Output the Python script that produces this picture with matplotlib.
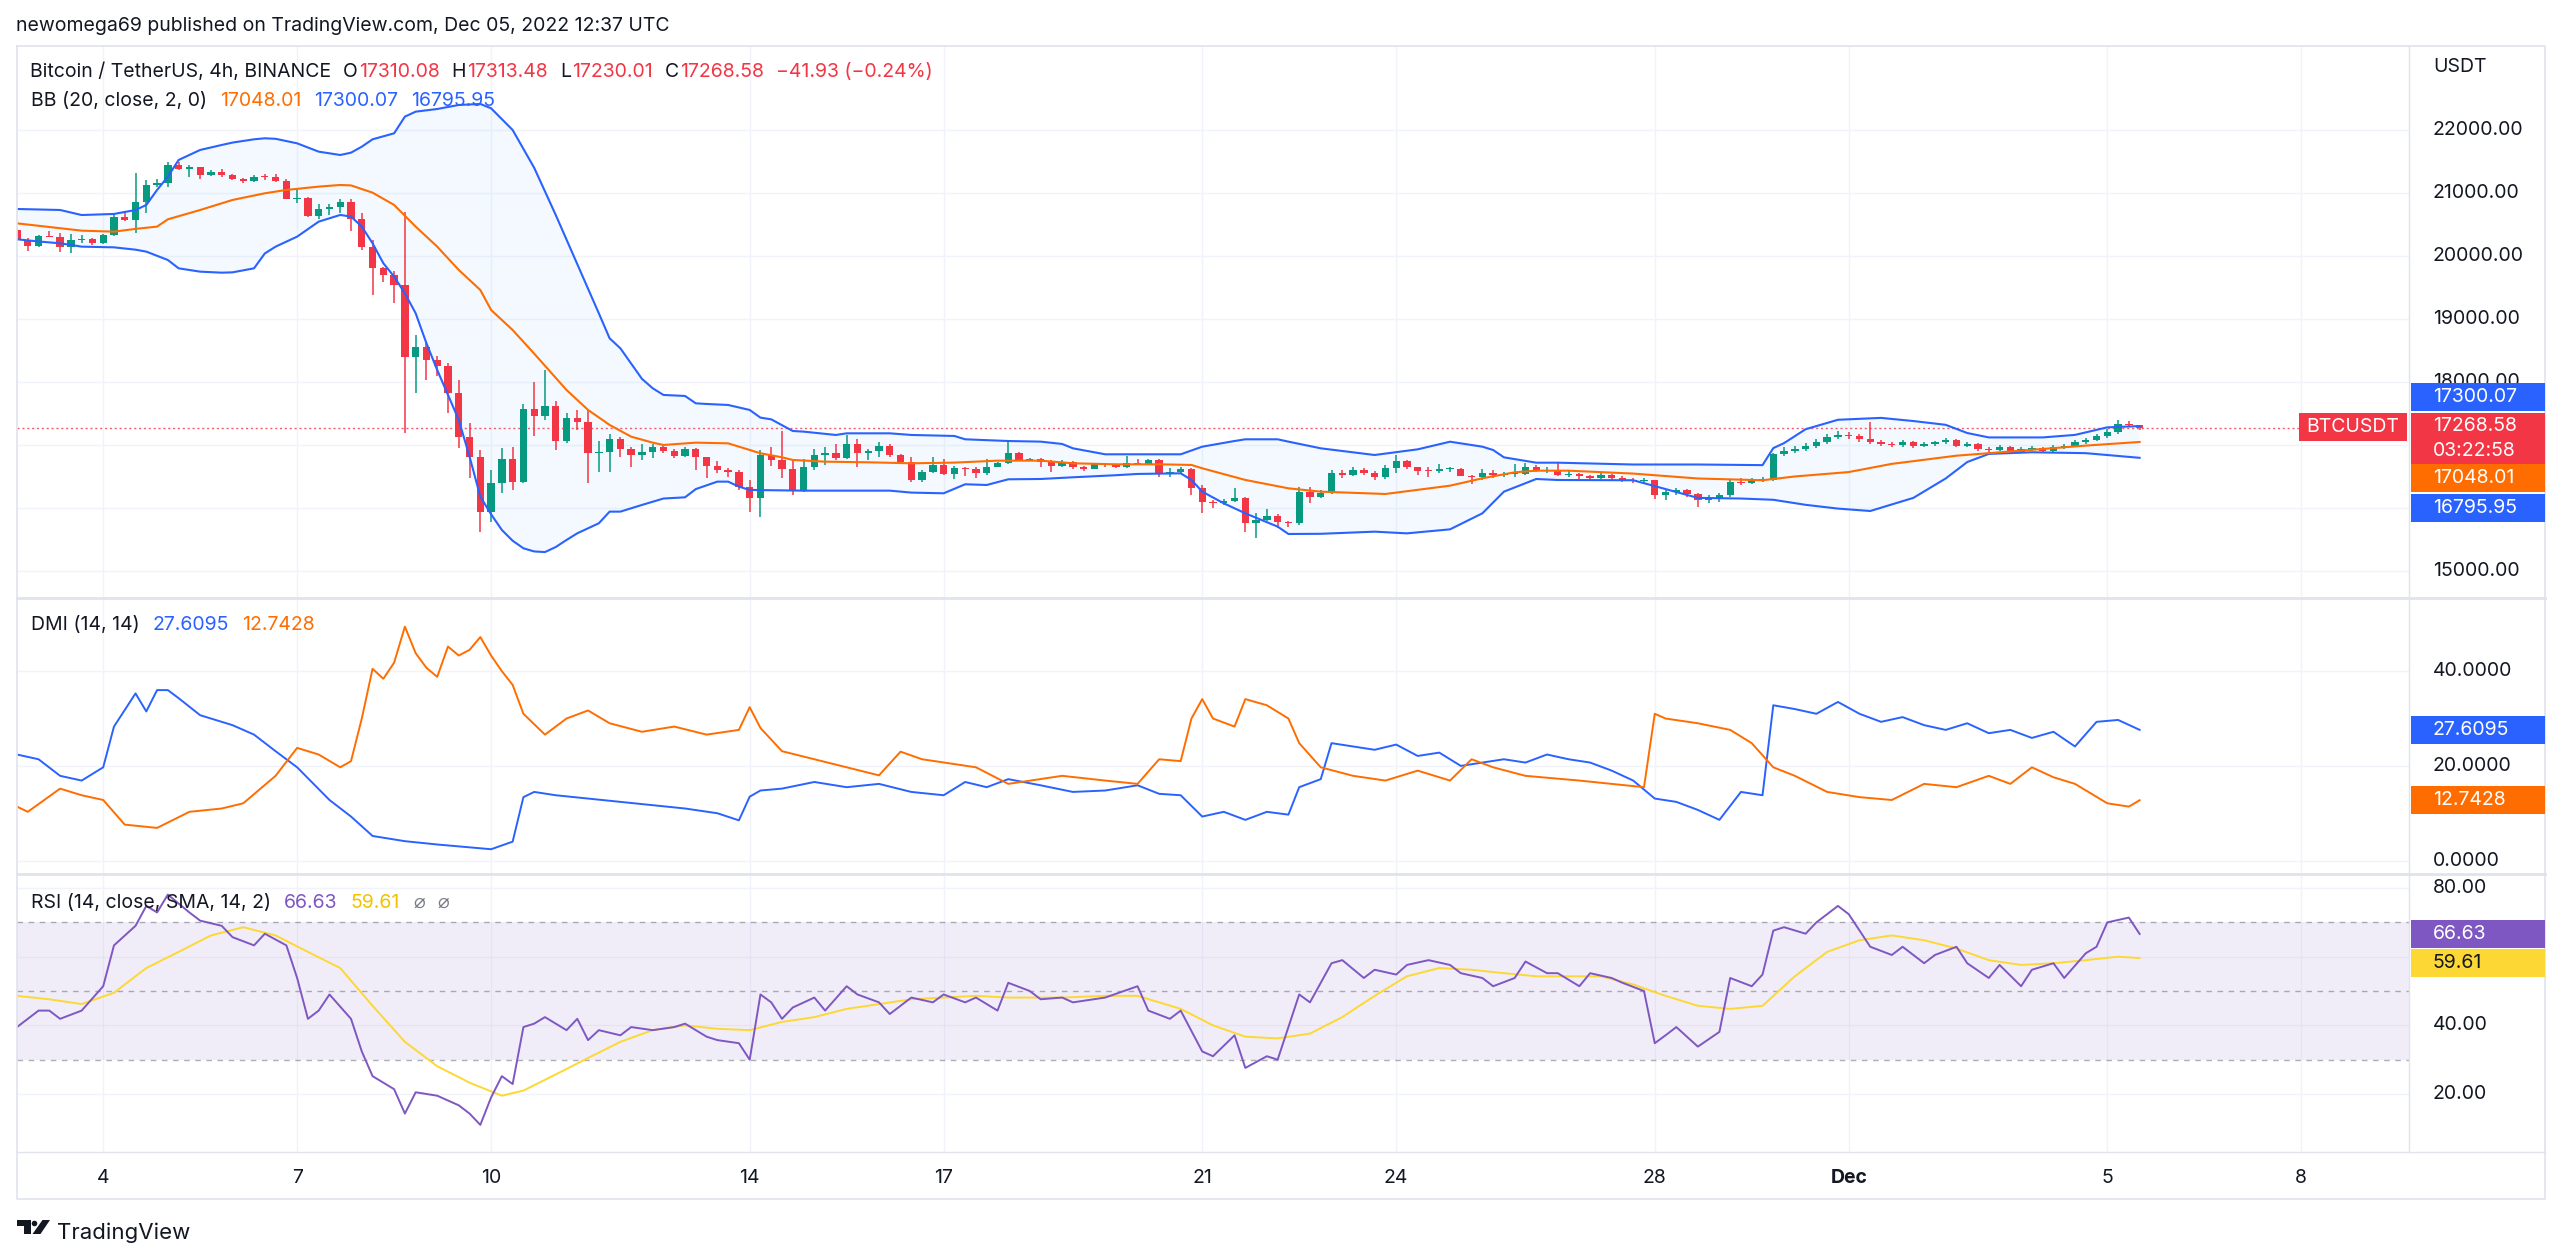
import numpy as np
import matplotlib
matplotlib.use('Agg')
import matplotlib.pyplot as plt
from matplotlib.patches import Rectangle, Circle, Polygon

plt.rcParams['font.family'] = ['Inter', 'DejaVu Sans']

W, H = 2560, 1259
FS = 14
GREEN, RED = '#089981', '#F23645'
BLUE, ORANGE = '#2962FF', '#FF6D00'
PURPLE, YELLOW = '#7E57C2', '#FDD835'
TEXT, GRAY = '#131722', '#787B86'
GRID, BORDER = '#F0F3FA', '#E0E3EB'

# ---- BTCUSDT 4h candles, Nov 2 16:00 -> Dec 5 12:00 ----
first_open = 20413
last_open = 17310.08
closes = [
    20254, 20164, 20317, 20305, 20137, 20254, 20265, 20201, 20328, 20614,
    20571, 20852, 21122, 21153, 21450, 21386, 21407, 21286, 21333, 21286,
    21228, 21190, 21259, 21250, 21196, 20910, 20920, 20635, 20751, 20783,
    20857, 20593, 20148, 19804, 19698, 19540, 18400, 18560, 18350, 18250,
    17831, 17132, 16804, 15942, 16392, 16773, 16418, 17571, 17466, 17619,
    17069, 17423, 17360, 16878, 16883, 17095, 16931, 16836, 16883, 16963,
    16910, 16825, 16931, 16804, 16672, 16603, 16571, 16339, 16164, 16841,
    16762, 16614, 16275, 16645, 16841, 16878, 16788, 17016, 16878, 16910,
    16989, 16841, 16736, 16445, 16577, 16683, 16534, 16640, 16619, 16550,
    16651, 16720, 16878, 16762, 16772, 16730, 16672, 16730, 16645, 16619,
    16693, 16677, 16645, 16720, 16698, 16762, 16534, 16577, 16613, 16312,
    16090, 16074, 16116, 16164, 15756, 15810, 15873, 15778, 15767, 16259,
    16180, 16244, 16560, 16520, 16600, 16560, 16486, 16629, 16751, 16645,
    16592, 16587, 16619, 16622, 16513, 16486, 16550, 16523, 16539, 16545,
    16645, 16592, 16600, 16523, 16540, 16500, 16480, 16520, 16470, 16450,
    16430, 16440, 16200, 16250, 16280, 16220, 16120, 16150, 16200, 16420,
    16400, 16440, 16450, 16850, 16900, 16930, 16980, 17050, 17120, 17160,
    17140, 17090, 17040, 17020, 17000, 17040, 16980, 17010, 17040, 17080,
    16990, 17010, 16940, 16920, 16960, 16890, 16930, 16950, 16900, 16960,
    16990, 17040, 17080, 17140, 17200, 17330, 17310.51, 17268.58]
highs = [
    20440, 20280, 20340, 20402, 20360, 20350, 20330, 20290, 20345, 20688,
    20693, 21323, 21207, 21217, 21487, 21487, 21440, 21420, 21360, 21375,
    21300, 21240, 21290, 21300, 21300, 21220, 21074, 20930, 20825, 20825,
    20910, 20910, 20688, 20254, 19830, 19762, 20704, 18740, 18620, 18420,
    18300, 18032, 17354, 16920, 16603, 16947, 16973, 17650, 18005, 18190,
    17704, 17502, 17555, 17555, 17063, 17169, 17132, 16973, 17016, 17016,
    16990, 16930, 16973, 16945, 16815, 16751, 16640, 16603, 16445, 16920,
    16963, 17222, 16773, 16773, 16931, 16963, 17016, 17159, 17095, 16931,
    17053, 17016, 16860, 16804, 16600, 16804, 16773, 16660, 16656, 16645,
    16773, 16735, 17053, 16890, 16790, 16788, 16762, 16762, 16740, 16667,
    16720, 16720, 16698, 16831, 16778, 16778, 16780, 16630, 16645, 16630,
    16365, 16127, 16150, 16312, 16180, 15915, 15990, 15905, 15800, 16339,
    16328, 16286, 16600, 16610, 16650, 16630, 16580, 16682, 16841, 16760,
    16650, 16645, 16698, 16656, 16640, 16520, 16619, 16603, 16577, 16698,
    16720, 16682, 16656, 16708, 16600, 16560, 16530, 16560, 16540, 16500,
    16480, 16470, 16450, 16290, 16310, 16300, 16240, 16210, 16240, 16460,
    16470, 16480, 16490, 16880, 16960, 16990, 17030, 17090, 17170, 17220,
    17200, 17170, 17360, 17080, 17050, 17080, 17060, 17040, 17070, 17110,
    17100, 17050, 17030, 16970, 17000, 16980, 16960, 16990, 16970, 17000,
    17020, 17080, 17110, 17170, 17250, 17400, 17380, 17313.48]
lows = [
    20230, 20085, 20150, 20296, 20069, 20053, 20200, 20180, 20190, 20310,
    20550, 20370, 20690, 21100, 21100, 21370, 21250, 21217, 21270, 21250,
    21200, 21160, 21170, 21210, 21180, 20900, 20836, 20620, 20592, 20656,
    20677, 20402, 20095, 19376, 19593, 19259, 17196, 17831, 18032, 18100,
    17500, 16947, 16471, 15624, 15783, 16233, 16286, 16400, 17148, 17397,
    16920, 17026, 17238, 16391, 16576, 16576, 16804, 16656, 16762, 16788,
    16880, 16790, 16804, 16603, 16471, 16560, 16497, 16286, 15942, 15862,
    16667, 16471, 16206, 16250, 16600, 16683, 16760, 16770, 16645, 16762,
    16804, 16815, 16709, 16418, 16420, 16560, 16524, 16455, 16508, 16471,
    16530, 16645, 16700, 16751, 16740, 16645, 16577, 16645, 16614, 16587,
    16614, 16656, 16630, 16630, 16683, 16683, 16497, 16497, 16560, 16206,
    15915, 16000, 16050, 16100, 15624, 15519, 15790, 15677, 15704, 15730,
    16085, 16153, 16220, 16480, 16500, 16530, 16450, 16455, 16550, 16620,
    16524, 16497, 16550, 16566, 16500, 16380, 16444, 16470, 16497, 16497,
    16524, 16566, 16560, 16508, 16490, 16460, 16440, 16460, 16440, 16410,
    16400, 16400, 16150, 16120, 16200, 16180, 16020, 16080, 16100, 16180,
    16360, 16380, 16410, 16430, 16820, 16870, 16900, 16950, 17020, 17090,
    17100, 17040, 17010, 16980, 16960, 16970, 16950, 16960, 16990, 17010,
    16960, 16970, 16910, 16880, 16900, 16860, 16870, 16910, 16880, 16880,
    16940, 16970, 17020, 17060, 17110, 17180, 17280, 17230.01]

# ---- Bollinger Bands (20, close, 2), sampled at candle index ----
bb_up_i = [0, 4, 6, 9, 11, 12, 13, 14, 15, 17, 19, 20, 22, 23, 24, 26, 28, 30, 31, 32,
           33, 35, 36, 37, 39, 41, 43, 44, 46, 48, 50, 54, 55, 56, 58, 59, 60, 62, 63, 64,
           66, 68, 69, 70, 72, 73, 76, 77, 81, 83, 87, 88, 92, 95, 97, 98, 101, 108, 110, 113,
           114, 117, 118, 121, 126, 130, 133, 136, 137, 138, 141, 143, 150, 156, 162, 163, 164, 166, 169, 173,
           176, 179, 181, 183, 188, 191, 194, 197]
bb_up = [20746, 20730, 20650, 20667, 20730, 20810, 21048, 21259, 21524, 21683, 21762, 21800, 21852, 21868, 21860, 21788, 21656, 21603, 21640, 21735,
         21852, 21947, 22212, 22291, 22333, 22397, 22413, 22344, 22000, 21400, 20651, 19090, 18693, 18534, 18050, 17900, 17794, 17778, 17661, 17651,
         17635, 17556, 17434, 17407, 17222, 17212, 17159, 17185, 17185, 17159, 17143, 17090, 17063, 17053, 17016, 16947, 16852, 16852, 16973, 17063,
         17090, 17090, 17053, 16947, 16841, 16931, 17052, 16973, 16920, 16804, 16719, 16719, 16690, 16690, 16680, 16950, 17030, 17250, 17400, 17430,
         17380, 17320, 17190, 17120, 17120, 17160, 17280, 17300.07]
bb_mid_i = [0, 3, 6, 9, 11, 13, 14, 17, 20, 23, 25, 28, 30, 31, 33, 35, 37, 39, 41, 43,
            44, 46, 48, 51, 53, 55, 57, 59, 60, 63, 66, 68, 69, 71, 72, 75, 79, 83, 87, 91,
            95, 98, 102, 106, 109, 110, 114, 118, 121, 127, 133, 136, 139, 141, 144, 150, 156, 162, 165, 170,
            174, 180, 186, 192, 197]
bb_mid = [20518, 20460, 20402, 20386, 20430, 20466, 20582, 20730, 20889, 20995, 21048, 21101, 21127, 21120, 21005, 20810, 20466, 20148, 19778, 19460,
          19143, 18825, 18450, 17873, 17556, 17318, 17132, 17037, 17000, 17037, 17026, 16921, 16868, 16804, 16762, 16735, 16725, 16709, 16720, 16751,
          16751, 16709, 16693, 16693, 16683, 16630, 16445, 16312, 16259, 16222, 16354, 16471, 16566, 16592, 16592, 16546, 16468, 16440, 16500, 16570,
          16700, 16830, 16910, 16990, 17048.01]
bb_low_i = [0, 2, 4, 6, 9, 11, 12, 14, 15, 17, 19, 20, 22, 23, 24, 26, 28, 30, 31, 32,
            33, 34, 35, 36, 37, 38, 39, 41, 42, 43, 44, 45, 46, 47, 48, 49, 50, 51, 52, 54,
            55, 56, 58, 60, 62, 63, 65, 66, 67, 68, 73, 77, 81, 83, 86, 88, 90, 92, 95, 98,
            102, 104, 108, 109, 110, 112, 114, 117, 118, 121, 126, 129, 133, 136, 138, 141, 143, 150, 153, 156,
            160, 163, 166, 169, 172, 176, 179, 181, 183, 187, 192, 197]
bb_low = [20265, 20230, 20201, 20148, 20137, 20100, 20069, 19936, 19804, 19751, 19735, 19740, 19804, 20040, 20148, 20307, 20545, 20651, 20625, 20466,
          20201, 19884, 19672, 19407, 19090, 18614, 18190, 17397, 16815, 16180, 15900, 15650, 15480, 15360, 15310, 15300, 15380, 15492, 15598, 15757,
          15942, 15942, 16048, 16150, 16169, 16300, 16418, 16418, 16339, 16286, 16275, 16275, 16275, 16244, 16233, 16376, 16365, 16455, 16460, 16487,
          16520, 16540, 16550, 16445, 16259, 16074, 15915, 15704, 15587, 15590, 15624, 15597, 15661, 15915, 16259, 16460, 16444, 16440, 16300, 16160,
          16150, 16130, 16050, 15990, 15952, 16160, 16468, 16729, 16858, 16884, 16870, 16795.95]

# ---- DMI (14, 14) ----
dmi_plus_i = [0, 2, 4, 6, 8, 9, 11, 12, 13, 14, 15, 17, 20, 22, 24, 26, 29, 31, 33, 36,
              39, 44, 46, 47, 48, 50, 53, 56, 59, 62, 65, 67, 68, 69, 71, 74, 77, 80, 83, 86,
              88, 90, 92, 95, 98, 101, 104, 106, 108, 110, 112, 114, 116, 118, 119, 121, 122, 124, 126, 128,
              130, 132, 134, 136, 138, 140, 142, 144, 146, 148, 150, 152, 154, 156, 158, 160, 162, 163, 165, 167,
              169, 171, 173, 175, 177, 179, 181, 183, 185, 187, 189, 191, 193, 195, 197]
dmi_plus = [22.4, 21.4, 17.9, 16.9, 19.7, 28.3, 35.3, 31.5, 36.0, 36.0, 34.3, 30.7, 28.6, 26.6, 23.1, 19.7, 12.8, 9.3, 5.2, 4.1,
            3.4, 2.4, 4.0, 13.4, 14.5, 13.8, 13.1, 12.4, 11.7, 11.0, 10.0, 8.5, 13.5, 14.8, 15.2, 16.6, 15.5, 16.2, 14.5, 13.8,
            16.6, 15.5, 17.2, 15.9, 14.5, 14.8, 15.9, 14.1, 13.8, 9.3, 10.3, 8.6, 10.3, 9.7, 15.5, 17.2, 24.8, 24.1, 23.4, 24.5,
            22.1, 22.8, 20.0, 20.7, 21.4, 20.7, 22.4, 21.4, 20.7, 19.0, 16.9, 13.1, 12.4, 10.7, 8.6, 14.5, 13.8, 32.8, 32.0, 31.0,
            33.5, 31.0, 29.3, 30.3, 28.6, 27.6, 29.0, 26.9, 27.6, 25.9, 27.2, 24.1, 29.3, 29.7, 27.6095]
dmi_minus_i = [0, 1, 4, 6, 8, 10, 13, 16, 19, 21, 24, 26, 28, 30, 31, 32, 33, 34, 35, 36,
               37, 38, 39, 40, 41, 42, 43, 44, 45, 46, 47, 49, 51, 53, 55, 58, 61, 64, 67, 68,
               69, 71, 74, 77, 80, 82, 84, 89, 92, 97, 101, 104, 106, 108, 109, 110, 111, 113, 114, 116,
               118, 119, 121, 124, 127, 130, 133, 135, 137, 140, 145, 151, 152, 153, 156, 159, 161, 163, 165, 168,
               171, 174, 177, 180, 183, 185, 187, 189, 191, 194, 196, 197]
dmi_minus = [11.4, 10.3, 15.2, 13.8, 12.8, 7.6, 6.9, 10.3, 11.0, 12.1, 17.9, 23.8, 22.4, 19.7, 21.0, 30.0, 40.5, 38.4, 41.8, 49.4,
             43.8, 40.7, 38.8, 45.2, 43.3, 44.5, 47.2, 43.3, 40.0, 37.1, 31.0, 26.6, 30.0, 31.7, 29.0, 27.2, 28.3, 26.6, 27.6, 32.4,
             28.0, 23.1, 21.4, 19.7, 18.0, 23.0, 21.4, 19.7, 16.2, 17.9, 16.9, 16.2, 21.4, 21.0, 30.0, 34.1, 30.0, 28.3, 34.1, 32.8,
             30.0, 24.8, 19.7, 17.9, 16.9, 19.0, 16.9, 21.4, 19.7, 17.9, 16.9, 15.5, 31.0, 30.0, 29.0, 27.6, 24.8, 19.7, 17.9, 14.5,
             13.4, 12.8, 16.2, 15.5, 17.9, 16.2, 19.7, 17.6, 16.2, 12.1, 11.4, 12.7428]

# ---- RSI (14, close) and its SMA 14 ----
rsi_i = [0, 2, 3, 4, 6, 8, 9, 11, 12, 13, 14, 16, 17, 19, 20, 22, 23, 25, 26, 27,
         28, 29, 31, 32, 33, 35, 36, 37, 39, 41, 42, 43, 44, 45, 46, 47, 48, 49, 51, 52,
         53, 54, 56, 57, 59, 61, 62, 64, 65, 67, 68, 69, 70, 71, 72, 74, 75, 77, 78, 80,
         81, 83, 85, 86, 88, 89, 91, 92, 94, 95, 97, 98, 101, 104, 105, 107, 108, 110, 111, 113,
         114, 116, 117, 119, 120, 122, 123, 125, 126, 128, 129, 131, 133, 134, 136, 137, 139, 140, 142, 143,
         145, 146, 148, 149, 151, 152, 153, 154, 156, 158, 159, 161, 162, 163, 164, 166, 167, 169, 170, 172,
         174, 175, 177, 178, 180, 181, 183, 184, 186, 187, 189, 190, 192, 193, 194, 196, 197]
rsi = [39.5, 44.3, 44.3, 41.9, 44.3, 51.4, 63.3, 69.0, 74.8, 72.9, 78.1, 72.9, 70.5, 69.0, 65.7, 63.3, 66.7, 63.3, 53.8, 41.9,
       44.3, 49.0, 41.9, 32.4, 25.2, 21.4, 14.3, 20.5, 19.5, 16.7, 14.3, 11.0, 19.0, 25.2, 22.9, 39.5, 40.5, 42.4, 38.6, 41.9,
       35.7, 38.6, 37.1, 39.5, 38.6, 39.5, 40.5, 36.7, 35.7, 34.8, 30.0, 49.0, 46.7, 41.9, 45.2, 48.1, 44.3, 51.4, 49.0, 46.7,
       43.3, 48.1, 46.7, 49.0, 46.7, 48.1, 44.3, 52.4, 50.0, 47.6, 48.1, 46.7, 48.1, 51.4, 44.3, 41.9, 44.3, 32.4, 31.0, 37.1,
       27.6, 31.0, 30.0, 49.0, 46.7, 58.1, 59.0, 53.8, 56.2, 54.8, 57.6, 59.0, 57.6, 55.2, 53.8, 51.4, 53.8, 58.6, 55.2, 55.2,
       51.4, 55.2, 53.8, 52.4, 50.0, 34.8, 37.1, 39.5, 33.8, 38.1, 53.8, 51.4, 54.8, 67.6, 68.6, 66.7, 70.0, 74.8, 72.4, 62.9,
       60.5, 62.9, 58.1, 60.5, 62.9, 58.1, 53.8, 57.6, 51.4, 56.2, 58.1, 53.8, 61.0, 62.9, 70.0, 71.4, 66.63]
rsi_ma_i = [0, 3, 6, 9, 12, 15, 18, 21, 24, 27, 30, 33, 36, 39, 42, 45, 47, 50, 53, 56,
            59, 62, 65, 68, 71, 74, 77, 80, 83, 86, 89, 92, 97, 101, 104, 108, 111, 114, 117, 120,
            123, 126, 129, 132, 135, 138, 141, 144, 147, 150, 153, 156, 159, 162, 165, 168, 171, 174, 177, 180,
            183, 186, 189, 192, 195, 197]
rsi_ma = [48.6, 47.6, 46.2, 49.5, 56.7, 61.4, 66.2, 68.6, 66.2, 61.4, 56.7, 45.7, 35.2, 28.1, 23.3, 19.5, 21.0, 25.7, 30.5, 35.2,
          38.6, 40.0, 39.0, 38.6, 41.0, 42.4, 44.8, 46.2, 47.6, 48.1, 48.6, 48.1, 48.1, 48.6, 48.6, 44.8, 40.0, 36.7, 36.2, 37.6,
          42.4, 48.6, 54.3, 56.7, 56.2, 55.2, 54.3, 54.3, 54.3, 51.9, 48.6, 45.7, 44.8, 45.7, 54.3, 61.4, 64.8, 66.2, 64.8, 62.4,
          59.0, 57.6, 58.1, 59.0, 60.0, 59.61]

# axis ticks (candle index of midnight) and labels
tick_pos = [8, 26, 44, 68, 86, 110, 128, 152, 170, 194, 212]
tick_lab = ['4', '7', '10', '14', '17', '21', '24', '28', 'Dec', '5', '8']
price_grid = [15000, 16000, 17000, 18000, 19000, 20000, 21000, 22000]
price_labels = [22000, 21000, 20000, 19000, 18000, 15000]
dmi_grid = [0, 20, 40]
rsi_grid = [20, 40, 60, 80]
rsi_labels = [80, 40, 20]

opens = [first_open] + closes[:-1]
opens[-1] = last_open

fig = plt.figure(figsize=(W / 100, H / 100), dpi=100)
fig.patch.set_facecolor('white')

L, R = 17, 2409


def pane(top, bottom, ylim):
    ax = fig.add_axes([L / W, 1 - bottom / H, (R - L) / W, (bottom - top) / H])
    ax.set_xlim(0, 222)
    ax.set_ylim(*ylim)
    ax.axis('off')
    for t in tick_pos:
        ax.axvline(t, color=GRID, lw=1, zorder=0)
    return ax


ax1 = pane(46, 598, (14571, 23333))
ax2 = pane(598, 874, (-2.83, 55.45))
ax3 = pane(874, 1152, (3.1, 84.1))

# main pane: bands + candles
for p in price_grid:
    ax1.axhline(p, color=GRID, lw=1, zorder=0)
ax1.fill(np.r_[bb_up_i, bb_low_i[::-1]], np.r_[bb_up, bb_low[::-1]],
         color='#2196F3', alpha=0.05, lw=0, zorder=1)
idx = np.arange(len(closes))
o, c = np.array(opens), np.array(closes)
col = np.where(c >= o, GREEN, RED)
ax1.vlines(idx, lows, highs, colors=col, lw=1.1, zorder=3)
ax1.bar(idx, np.maximum(np.abs(c - o), 14), bottom=np.minimum(o, c), width=0.68,
        color=col, lw=0, zorder=4)
ax1.plot(bb_up_i, bb_up, color=BLUE, lw=1.5, zorder=5)
ax1.plot(bb_low_i, bb_low, color=BLUE, lw=1.5, zorder=5)
ax1.plot(bb_mid_i, bb_mid, color=ORANGE, lw=1.5, zorder=5)
ax1.axhline(closes[-1], color=RED, lw=1, ls=(0, (1.5, 2)), alpha=0.8, zorder=2)

# DMI pane
for v in dmi_grid:
    ax2.axhline(v, color=GRID, lw=1, zorder=0)
ax2.plot(dmi_plus_i, dmi_plus, color=BLUE, lw=1.4)
ax2.plot(dmi_minus_i, dmi_minus, color=ORANGE, lw=1.4)

# RSI pane
for v in rsi_grid:
    ax3.axhline(v, color=GRID, lw=1, zorder=0)
ax3.axhspan(30, 70, color=PURPLE, alpha=0.1, lw=0, zorder=1)
for v in [70, 50, 30]:
    ax3.axhline(v, color=GRAY, lw=1, ls=(0, (4, 4)), alpha=0.6, zorder=1)
ax3.plot(rsi_i, rsi, color=PURPLE, lw=1.4, zorder=3)
ax3.plot(rsi_ma_i, rsi_ma, color=YELLOW, lw=1.4, zorder=2)

# overlay in pixel coordinates for text, tags and frame
ov = fig.add_axes([0, 0, 1, 1], zorder=10)
ov.set_xlim(0, W)
ov.set_ylim(H, 0)
ov.axis('off')
rend = fig.canvas.get_renderer()


def py(ax, v):
    return H - ax.transData.transform((0, v))[1]


def px(ax, t):
    return ax.transData.transform((t, 0))[0]


def row(x, y, parts, size=FS):
    for s, colr, gap in parts:
        t = ov.text(x, y, s, color=colr, fontsize=size, va='center', ha='left')
        x += t.get_window_extent(rend).width + gap


def tag(y, s, bg, fg='white', h=28, x0=2411, x1=2545):
    ov.add_patch(Rectangle((x0, y - h / 2), x1 - x0, h, color=bg, lw=0, zorder=5))
    ov.text(2433, y, s, color=fg, fontsize=FS, va='center', ha='left', zorder=6)


# frame and separators
ov.plot([L, L, 2545, 2545, L], [46, 1199, 1199, 46, 46], color=BORDER, lw=1.2)
ov.plot([R, R], [46, 1152], color=BORDER, lw=1)
ov.plot([L, 2545], [1152, 1152], color=BORDER, lw=1)
for y in (598, 874):
    ov.plot([L, 2545], [y, y], color=BORDER, lw=2)

# header / legends
row(16, 26, [('newomega69 published on TradingView.com, Dec 05, 2022 12:37 UTC', TEXT, 0)])
chg = closes[-1] - closes[-2]
row(30, 72, [('Bitcoin / TetherUS, 4h, BINANCE', TEXT, 12),
             ('O', TEXT, 1), (f'{opens[-1]:.2f}', RED, 12),
             ('H', TEXT, 1), (f'{highs[-1]:.2f}', RED, 12),
             ('L', TEXT, 1), (f'{lows[-1]:.2f}', RED, 12),
             ('C', TEXT, 1), (f'{closes[-1]:.2f}', RED, 12),
             (f'\u2212{abs(chg):.2f} (\u2212{abs(chg) / closes[-2] * 100:.2f}%)', RED, 0)])
row(31, 101, [('BB (20, close, 2, 0)', TEXT, 13), (f'{bb_mid[-1]:.2f}', ORANGE, 13),
              (f'{bb_up[-1]:.2f}', BLUE, 13), (f'{bb_low[-1]:.2f}', BLUE, 0)])
row(31, 625, [('DMI (14, 14)', TEXT, 13), (f'{dmi_plus[-1]:.4f}', BLUE, 13),
              (f'{dmi_minus[-1]:.4f}', ORANGE, 0)])
row(31, 903, [('RSI (14, close, SMA, 14, 2)', TEXT, 13), (f'{rsi[-1]:.2f}', PURPLE, 13),
              (f'{rsi_ma[-1]:.2f}', '#F2C200', 13), ('\u2300', GRAY, 13), ('\u2300', GRAY, 0)])

# price scale labels
ov.text(2433, 67, 'USDT', color=TEXT, fontsize=FS, va='center')
for p in price_labels:
    ov.text(2433, py(ax1, p), f'{p:.2f}', color=TEXT, fontsize=FS, va='center')
for v in dmi_grid:
    ov.text(2433, py(ax2, v), f'{v:.4f}', color=TEXT, fontsize=FS, va='center')
for v in rsi_labels:
    ov.text(2433, py(ax3, v), f'{v:.2f}', color=TEXT, fontsize=FS, va='center')

# last-value tags (stacked the way the price scale stacks them)
tag(397, f'{bb_up[-1]:.2f}', BLUE)
ov.add_patch(Rectangle((2411, 413), 134, 51, color=RED, lw=0, zorder=5))
ov.text(2433, 426, f'{closes[-1]:.2f}', color='white', fontsize=FS, va='center', zorder=6)
ov.text(2433, 451, '03:22:58', color='white', fontsize=FS, va='center', zorder=6)
ov.add_patch(Rectangle((2299, 413), 108, 28, color=RED, lw=0, zorder=5))
ov.text(2353, 427, 'BTCUSDT', color='white', fontsize=FS, va='center', ha='center', zorder=6)
tag(478, f'{bb_mid[-1]:.2f}', ORANGE)
tag(508, f'{bb_low[-1]:.2f}', BLUE)
tag(py(ax2, dmi_plus[-1]), f'{dmi_plus[-1]:.4f}', BLUE)
tag(py(ax2, dmi_minus[-1]), f'{dmi_minus[-1]:.4f}', ORANGE)
y_rsi = py(ax3, rsi[-1])
tag(y_rsi, f'{rsi[-1]:.2f}', PURPLE)
tag(max(py(ax3, rsi_ma[-1]), y_rsi + 29), f'{rsi_ma[-1]:.2f}', YELLOW, fg=TEXT)

# time scale
for t, lab in zip(tick_pos, tick_lab):
    ov.text(px(ax3, t), 1178, lab, color=TEXT, fontsize=FS, va='center', ha='center',
            fontweight='bold' if lab == 'Dec' else 'normal')

# footer logo
ov.add_patch(Rectangle((17, 1220), 14, 5.5, color=TEXT, lw=0))
ov.add_patch(Rectangle((23.5, 1220), 7.5, 14, color=TEXT, lw=0))
ov.add_patch(Circle((34.5, 1223.5), 2.8, color=TEXT, lw=0))
ov.add_patch(Polygon([(32.5, 1234), (40.5, 1234), (50, 1220), (42.5, 1220)], color=TEXT, lw=0))
ov.text(57, 1239, 'TradingView', color=TEXT, fontsize=16, va='baseline', ha='left')

fig.savefig('out.png', dpi=100, facecolor='white')
